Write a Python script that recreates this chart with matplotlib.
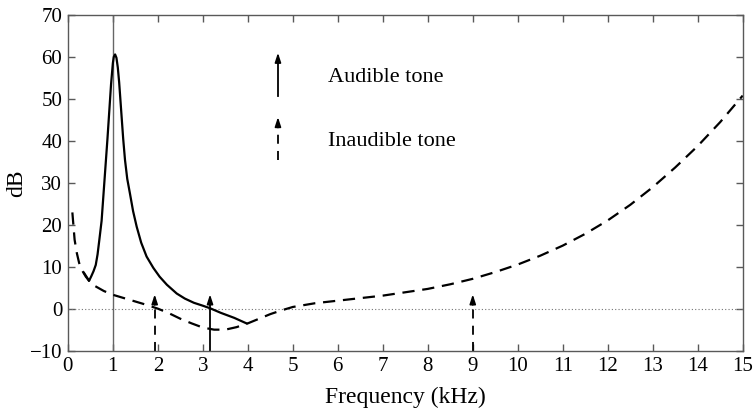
import matplotlib
matplotlib.use("Agg")
import matplotlib.pyplot as plt

plt.rcParams['font.family'] = ['Liberation Serif', 'DejaVu Serif']

# threshold in quiet (dashed)
thr_f = [0.1, 0.15, 0.2, 0.25, 0.3, 0.4, 0.5, 0.6, 0.7, 0.8, 1.0, 1.25, 1.5, 1.75,
         2.0, 2.25, 2.5, 2.75, 3.0, 3.25, 3.5, 3.75, 4.0, 4.25, 4.5, 4.75, 5.0,
         5.5, 6.0, 6.5, 7.0, 7.5, 8.0, 8.5, 9.0, 9.5, 10.0, 10.5, 11.0, 11.5,
         12.0, 12.5, 13.0, 13.5, 14.0, 14.5, 15.0]
thr_db = [23.0, 16.5, 13.3, 11.0, 9.5, 7.7, 6.4, 5.5, 4.9, 4.3, 3.4, 2.6, 1.8, 1.0,
          0.1, -1.0, -2.3, -3.4, -4.4, -4.9, -4.9, -4.3, -3.4, -2.3, -1.2, -0.3, 0.5,
          1.4, 2.0, 2.6, 3.2, 4.0, 4.8, 5.9, 7.2, 8.8, 10.6, 12.7, 15.1, 17.9,
          21.1, 24.8, 29.0, 33.7, 38.8, 44.5, 50.8]

# masked threshold around the 1 kHz tone (solid)
mask_f = [0.36, 0.42, 0.47, 0.52, 0.57, 0.62, 0.66, 0.70, 0.75, 0.79, 0.82, 0.85,
          0.88, 0.92, 0.96, 1.00, 1.02, 1.05, 1.08, 1.11, 1.14, 1.16, 1.20, 1.23,
          1.27, 1.32, 1.38, 1.45, 1.53, 1.63, 1.75, 1.90, 2.04, 2.20, 2.42, 2.60,
          2.80, 3.00, 3.16, 3.40, 3.70, 3.97]
mask_db = [8.6, 7.6, 6.7, 7.8, 9.0, 10.5, 13.0, 16.5, 21.0, 27.0, 31.5, 36.0,
           40.5, 47.0, 53.5, 58.5, 60.0, 60.6, 59.8, 57.5, 54.0, 51.0, 45.0, 40.5,
           35.5, 31.0, 27.5, 23.3, 19.6, 15.8, 12.5, 9.8, 7.7, 5.8, 3.7, 2.5,
           1.5, 0.8, 0.2, -0.9, -2.1, -3.4]

masker_f = 1.0
audible_f = [3.16]
inaudible_f = [1.93, 9.0]
tone_db = 3.5

fig = plt.figure(figsize=(7.54, 4.15), dpi=100)
ax = fig.add_axes([0.090, 0.154, 0.895, 0.810])

ax.axhline(0, color='0.45', lw=0.8, ls=(0, (1, 2)))
ax.axvline(masker_f, color='0.4', lw=1.0)

ax.plot(thr_f, thr_db, color='k', lw=1.6, ls=(0, (5.5, 3.5)))
ax.plot(mask_f, mask_db, color='k', lw=1.6, solid_joinstyle='round')

head = dict(arrowstyle='-|>,head_length=0.55,head_width=0.18', color='k', lw=1.2,
            shrinkA=0, shrinkB=0)


def tone(x, y0, y1, dashed):
    if dashed:
        ax.plot([x, x], [y0, y1 - 1.5], color='k', lw=1.3, ls=(0, (5, 4)))
    else:
        ax.plot([x, x], [y0, y1 - 1.5], color='k', lw=1.3)
    ax.annotate('', xy=(x, y1), xytext=(x, y1 - 2.5), arrowprops=head)


for f in audible_f:
    tone(f, -10, tone_db, False)
for f in inaudible_f:
    tone(f, -10, tone_db, True)

# legend arrows
tone(4.67, 50.7, 61, False)
tone(4.67, 35.5, 45.7, True)
ax.text(5.78, 55, 'Audible tone', fontsize=16, va='center', ha='left')
ax.text(5.78, 39.8, 'Inaudible tone', fontsize=16, va='center', ha='left')

ax.set_xlim(0, 15)
ax.set_ylim(-10, 70)
ax.set_xticks(range(0, 16))
ax.set_yticks(range(-10, 71, 10))
ax.set_yticklabels(['\u221210'] + [str(v) for v in range(0, 71, 10)])
ax.tick_params(direction='in', length=5, width=1, color='0.35', labelsize=15,
               top=True, right=True, pad=4)
for s in ax.spines.values():
    s.set_color('0.35')
    s.set_linewidth(1.0)

ax.set_xlabel('Frequency (kHz)', fontsize=17, labelpad=8)
ax.set_ylabel('dB', fontsize=17, labelpad=2)

fig.savefig('out.png', dpi=100)
